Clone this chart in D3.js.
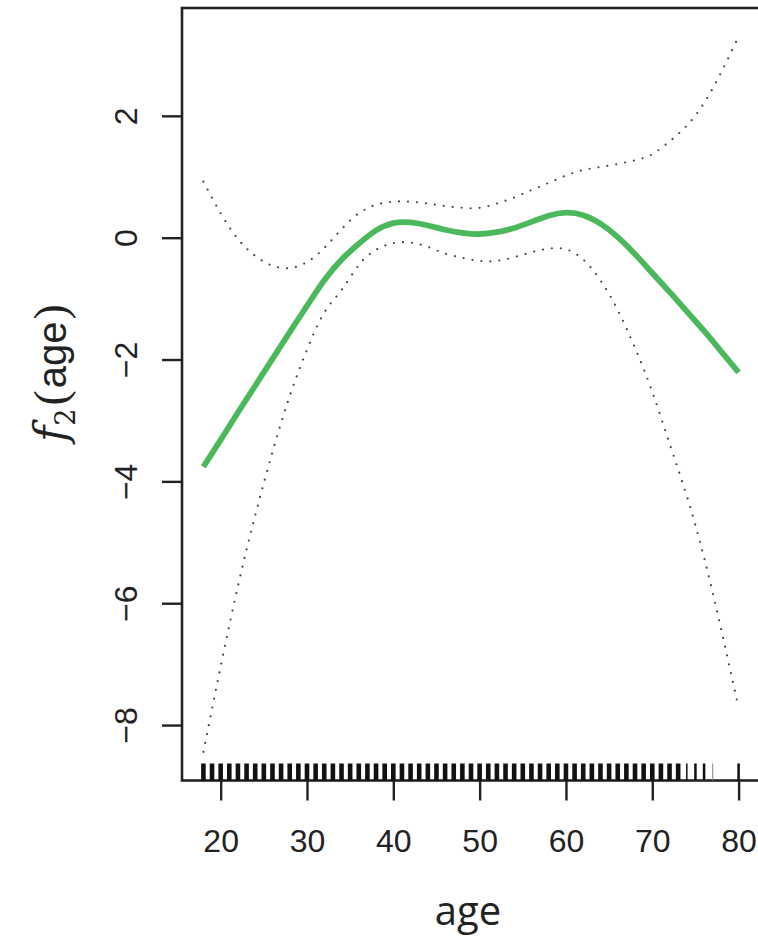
<!DOCTYPE html>
<html>
<head>
<meta charset="utf-8">
<script src="https://cdn.jsdelivr.net/npm/d3@7"></script>
<style>
  body { margin: 0; background: white; }
  svg { display: block; }
</style>
</head>
<body>
<script>
var width = 758
var height = 940

// ages at which the fitted function and its bands were read
var ages = [18, 20, 22, 24, 26, 28, 30, 32, 34, 36, 38, 40, 42, 44, 46, 48,
            50, 52, 54, 56, 58, 60, 62, 64, 66, 68, 70, 72, 74, 76, 78, 80]

var fit = [-3.76, -3.32, -2.87, -2.43, -1.99, -1.55, -1.12, -0.70, -0.36, -0.10, 0.12, 0.24,
           0.25, 0.20, 0.13, 0.08, 0.06, 0.09, 0.16, 0.26, 0.36, 0.41, 0.37, 0.23,
           0.01, -0.27, -0.58, -0.89, -1.21, -1.53, -1.87, -2.21]

var upper = [0.92, 0.40, -0.02, -0.30, -0.46, -0.50, -0.40, -0.17, 0.14, 0.40, 0.54, 0.59,
             0.59, 0.56, 0.52, 0.49, 0.49, 0.56, 0.66, 0.78, 0.90, 1.02, 1.11, 1.16,
             1.21, 1.27, 1.37, 1.58, 1.84, 2.21, 2.72, 3.30]

var lower = [-8.44, -7.04, -5.72, -4.56, -3.52, -2.60, -1.84, -1.23, -0.86, -0.45, -0.20, -0.09,
             -0.08, -0.15, -0.26, -0.33, -0.38, -0.38, -0.32, -0.24, -0.18, -0.19, -0.36, -0.70,
             -1.19, -1.81, -2.53, -3.38, -4.24, -5.25, -6.44, -7.72]

// rug: observed ages and rough number of observations at each
var rugAges = d3.range(18, 78).concat([80])
var rugCounts = rugAges.map(function (a) {
    if (a <= 73) return 10
    if (a === 74) return 2
    if (a === 75 || a === 76) return 4
    if (a === 77) return 1
    return 4
})

var xTicks = [20, 30, 40, 50, 60, 70, 80]
var yTicks = [-8, -6, -4, -2, 0, 2]

var svg = d3.select("body")
    .append("svg")
    .attr("width", width)
    .attr("height", height)

svg.append("rect")
    .attr("width", width)
    .attr("height", height)
    .attr("fill", "white")

var x = d3.scaleLinear()
    .domain([15.52, 82.48])
    .range([182, 760])

var y = d3.scaleLinear()
    .domain([-8.91, 3.77])
    .range([780.5, 8])

var fontAxis = "'Liberation Sans', Arial, sans-serif"

// box
svg.append("rect")
    .attr("x", x.range()[0])
    .attr("y", y.range()[1])
    .attr("width", x.range()[1] - x.range()[0])
    .attr("height", y.range()[0] - y.range()[1])
    .attr("fill", "none")
    .attr("stroke", "#222")
    .attr("stroke-width", 2.6)

// rug
var rugWidth = d3.scaleLinear().domain([1, 8]).range([1, 4.6]).clamp(true)

svg.append("g")
    .selectAll("line")
    .data(rugAges)
    .enter()
    .append("line")
    .attr("x1", function (d) { return x(d) })
    .attr("x2", function (d) { return x(d) })
    .attr("y1", y.range()[0] - 17)
    .attr("y2", y.range()[0])
    .attr("stroke", function (d, i) { return rugCounts[i] < 2 ? "#888" : "#111" })
    .attr("stroke-width", function (d, i) { return rugWidth(rugCounts[i]) })

// bands and fit
function series(vals) {
    return ages.map(function (a, i) { return [a, vals[i]] })
}

var line = d3.line()
    .x(function (d) { return x(d[0]) })
    .y(function (d) { return y(d[1]) })
    .curve(d3.curveNatural)

;[upper, lower].forEach(function (band) {
    svg.append("path")
        .datum(series(band))
        .attr("d", line)
        .attr("fill", "none")
        .attr("stroke", "#444")
        .attr("stroke-width", 2.2)
        .attr("stroke-linecap", "round")
        .attr("stroke-dasharray", "0,9")
})

svg.append("path")
    .datum(series(fit))
    .attr("d", line)
    .attr("fill", "none")
    .attr("stroke", "#4CB85C")
    .attr("stroke-width", 5.8)
    .attr("stroke-linejoin", "round")

// axes
var xAxis = svg.append("g")
    .attr("transform", "translate(0," + y.range()[0] + ")")
    .call(d3.axisBottom(x).tickValues(xTicks).tickSize(20).tickFormat(d3.format("d")))

xAxis.select(".domain").remove()
xAxis.selectAll("line").attr("stroke", "#222").attr("stroke-width", 2.4)
xAxis.selectAll("text")
    .attr("y", 71)
    .attr("dy", 0)
    .attr("fill", "#222")
    .style("font-family", fontAxis)
    .style("font-size", "32px")

var yAxis = svg.append("g")
    .attr("transform", "translate(" + x.range()[0] + ",0)")
    .call(d3.axisLeft(y).tickValues(yTicks).tickSize(20).tickFormat(function (d) {
        return d < 0 ? "\u2212" + Math.abs(d) : d
    }))

yAxis.select(".domain").remove()
yAxis.selectAll("line").attr("stroke", "#222").attr("stroke-width", 2.4)
yAxis.selectAll("text")
    .attr("x", 0)
    .attr("y", -45)
    .attr("dy", 0)
    .attr("transform", "rotate(-90)")
    .attr("text-anchor", "middle")
    .attr("fill", "#222")
    .style("font-family", fontAxis)
    .style("font-size", "32px")

// axis titles
svg.append("text")
    .attr("x", 468)
    .attr("y", 925)
    .attr("text-anchor", "middle")
    .attr("fill", "#222")
    .style("font-family", "'Open Sans', sans-serif")
    .style("font-size", "40px")
    .text("age")

var yTitle = svg.append("text")
    .attr("transform", "translate(66,373) rotate(-90)")
    .attr("text-anchor", "middle")
    .attr("fill", "#222")
    .style("font-family", fontAxis)
    .style("font-size", "40px")

yTitle.append("tspan")
    .style("font-family", "'DejaVu Serif', serif")
    .style("font-style", "italic")
    .style("font-size", "44px")
    .text("f")
yTitle.append("tspan")
    .attr("dy", 9)
    .style("font-family", "'DejaVu Serif', serif")
    .style("font-size", "27px")
    .text("2")
yTitle.append("tspan")
    .attr("dy", -9)
    .attr("dx", 3)
    .style("font-family", "'Liberation Serif', serif")
    .style("font-size", "46px")
    .text("(")
yTitle.append("tspan")
    .attr("dx", 2)
    .text("age")
yTitle.append("tspan")
    .attr("dx", 2)
    .style("font-family", "'Liberation Serif', serif")
    .style("font-size", "46px")
    .text(")")
</script>
</body>
</html>
